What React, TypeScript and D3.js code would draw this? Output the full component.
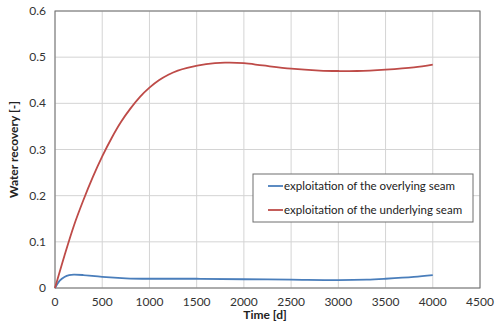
import React, { useRef, useEffect } from 'react';
import * as d3 from 'd3';

// time [d]
const overlyingTime = [0, 50, 100, 150, 200, 300, 500, 750, 1000, 1500, 2000, 2500, 3000, 3300, 3500, 3800, 4000];
const overlyingValues = [0, 0.016, 0.024, 0.028, 0.029, 0.028, 0.024, 0.021, 0.02, 0.02, 0.019, 0.018, 0.017, 0.018, 0.02, 0.024, 0.028];

const underlyingTime = [0, 100, 200, 300, 400, 500, 600, 700, 800, 900, 1000, 1100, 1200, 1300, 1400, 1600, 1800, 2000, 2200, 2500, 2800, 3000, 3200, 3500, 3800, 4000];
const underlyingValues = [0, 0.07, 0.135, 0.19, 0.24, 0.285, 0.325, 0.36, 0.389, 0.414, 0.434, 0.45, 0.462, 0.471, 0.477, 0.485, 0.488, 0.487, 0.482, 0.475, 0.471, 0.47, 0.47, 0.473, 0.478, 0.484];

const xTicks = [0, 500, 1000, 1500, 2000, 2500, 3000, 3500, 4000, 4500];
const yTicks = [0, 0.1, 0.2, 0.3, 0.4, 0.5, 0.6];

const seriesNames = ['exploitation of the overlying seam', 'exploitation of the underlying seam'];
const seriesColors = ['#4a7ebb', '#be4b48'];

export default function App() {
    const svgRef = useRef<SVGSVGElement>(null);

    useEffect(() => {
        const svg = d3.select(svgRef.current);
        svg.selectAll('*').remove();

        const left = 55, right = 480, top = 11, bottom = 288;
        const x = d3.scaleLinear().domain([0, 4500]).range([left, right]);
        const y = d3.scaleLinear().domain([0, 0.6]).range([bottom, top]);
        const font = 'Lato, "Open Sans", sans-serif';

        svg.append('rect').attr('width', 500).attr('height', 324).attr('fill', '#fff');

        // grid
        svg.append('g').selectAll('line').data(xTicks).join('line')
            .attr('x1', d => x(d)).attr('x2', d => x(d))
            .attr('y1', top).attr('y2', bottom)
            .attr('stroke', '#d4d4d4').attr('stroke-width', 1);
        svg.append('g').selectAll('line').data(yTicks).join('line')
            .attr('x1', left).attr('x2', right)
            .attr('y1', d => y(d)).attr('y2', d => y(d))
            .attr('stroke', '#d4d4d4').attr('stroke-width', 1);

        svg.append('rect')
            .attr('x', left).attr('y', top)
            .attr('width', right - left).attr('height', bottom - top)
            .attr('fill', 'none').attr('stroke', '#6e6e6e').attr('stroke-width', 1);

        // tick labels
        svg.append('g').selectAll('text').data(xTicks).join('text')
            .attr('x', d => x(d)).attr('y', bottom + 18)
            .attr('text-anchor', 'middle')
            .style('font-family', font).style('font-size', '12px').attr('fill', '#333')
            .text(d => String(d));
        svg.append('g').selectAll('text').data(yTicks).join('text')
            .attr('x', left - 9).attr('y', d => y(d) + 4)
            .attr('text-anchor', 'end')
            .style('font-family', font).style('font-size', '12px').attr('fill', '#333')
            .text(d => (d === 0 ? '0' : String(d)));

        svg.append('text')
            .attr('x', 265).attr('y', 319)
            .attr('text-anchor', 'middle')
            .style('font-family', font).style('font-size', '12px').style('font-weight', 'bold').attr('fill', '#222')
            .text('Time [d]');
        svg.append('text')
            .attr('transform', `translate(18, ${(top + bottom) / 2}) rotate(-90)`)
            .attr('text-anchor', 'middle')
            .style('font-family', font).style('font-size', '12px').style('font-weight', 'bold').attr('fill', '#222')
            .text('Water recovery [-]');

        const line = d3.line<[number, number]>()
            .x(d => x(d[0])).y(d => y(d[1]))
            .curve(d3.curveCatmullRom.alpha(0.5));

        const series = [
            d3.zip(overlyingTime, overlyingValues) as [number, number][],
            d3.zip(underlyingTime, underlyingValues) as [number, number][],
        ];

        svg.append('g').selectAll('path').data(series).join('path')
            .attr('d', d => line(d))
            .attr('fill', 'none')
            .attr('stroke', (d, i) => seriesColors[i])
            .attr('stroke-width', 1.8);

        // legend
        const legend = svg.append('g');
        legend.append('rect')
            .attr('x', 253).attr('y', 174).attr('width', 220).attr('height', 48)
            .attr('fill', '#fff').attr('stroke', '#6e6e6e').attr('stroke-width', 1);
        seriesNames.forEach((name, i) => {
            const ly = 186 + i * 24;
            legend.append('line')
                .attr('x1', 268).attr('x2', 283).attr('y1', ly).attr('y2', ly)
                .attr('stroke', seriesColors[i]).attr('stroke-width', 1.8);
            legend.append('text')
                .attr('x', 284).attr('y', ly + 4)
                .style('font-family', font).style('font-size', '11.5px').attr('fill', '#222')
                .text(name);
        });
    }, []);

    return (
        <svg ref={svgRef} width={500} height={324}
            style={{ position: 'absolute', left: 0, top: 0 }}>
        </svg>
    );
}
